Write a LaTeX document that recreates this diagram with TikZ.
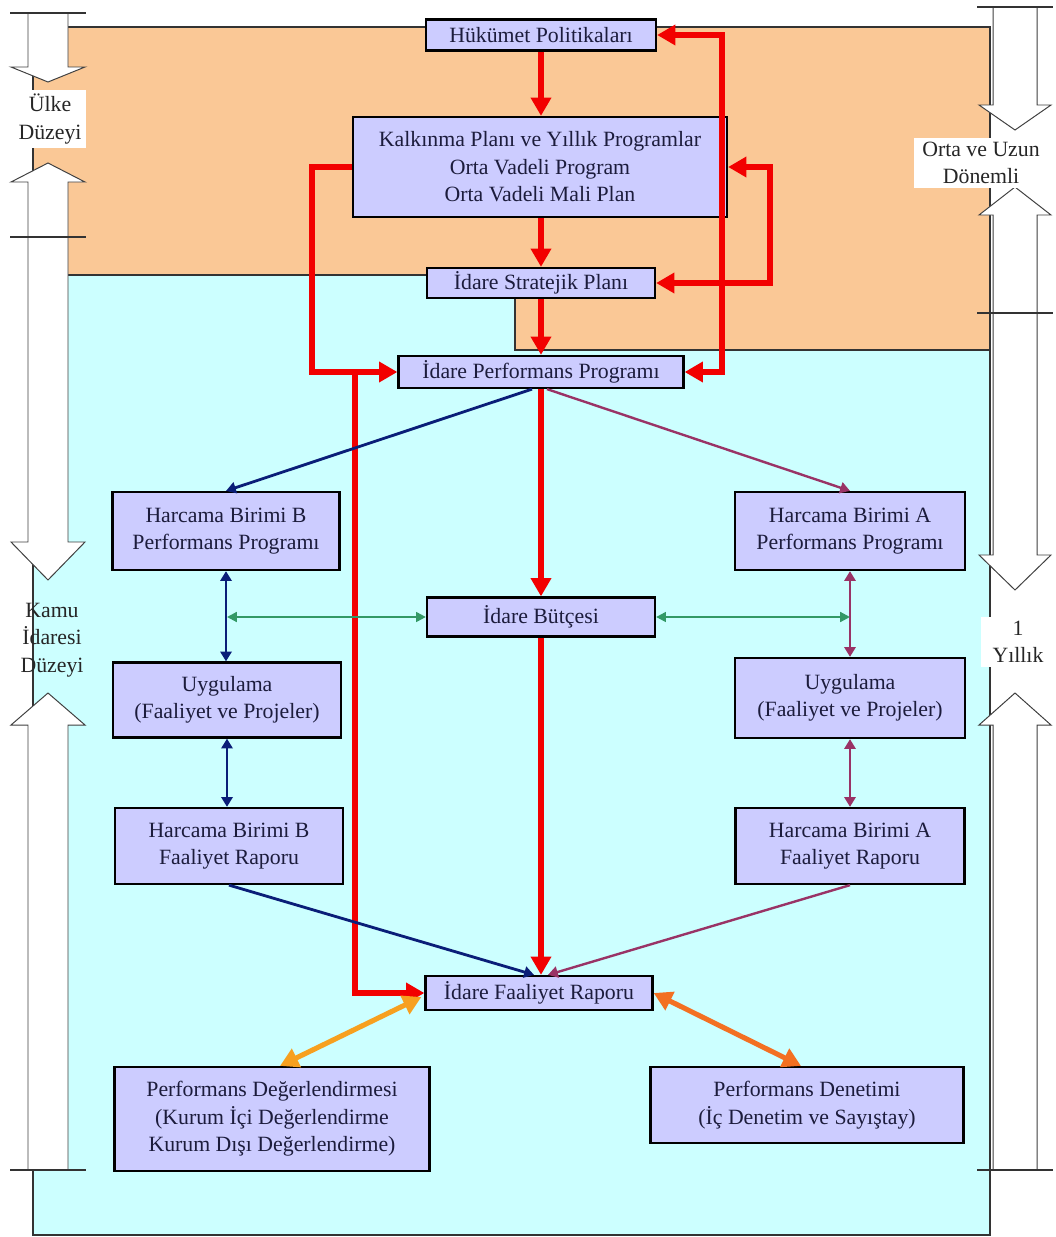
\documentclass[tikz,border=0pt]{standalone}
\usepackage{fontspec}
\setmainfont{Liberation Serif}
\usepackage{xcolor}
\usepackage{tikz}
\usetikzlibrary{arrows.meta,positioning,calc,backgrounds}

\definecolor{peach}{HTML}{FAC896}
\definecolor{lightcyan}{HTML}{CCFFFF}
\definecolor{lavender}{HTML}{CCCCFF}
\definecolor{boxtext}{HTML}{1C1C3C}
\definecolor{redline}{HTML}{F20000}
\definecolor{navyline}{HTML}{0A1E78}
\definecolor{plumline}{HTML}{993366}
\definecolor{greenline}{HTML}{339966}
\definecolor{orangeA}{HTML}{F7A01F}
\definecolor{orangeB}{HTML}{F37022}

\begin{document}
\begin{tikzpicture}[
    x=0.025cm, y=-0.025cm,
    font=\fontsize{15.5}{19.5}\selectfont,
    box/.style={rectangle, draw=black, line width=1.6pt, fill=lavender, text=boxtext, align=center, inner sep=2pt},
    wh/.style 2 args={minimum width=#1*0.025cm, minimum height=#2*0.025cm},
    redarrow/.style={draw=redline, line width=3.6pt, -{Triangle[length=13pt,width=14pt]}},
    redboth/.style={redarrow, {Triangle[length=13pt,width=14pt]}-{Triangle[length=13pt,width=14pt]}},
    navyarrow/.style={draw=navyline, line width=2pt, -{Triangle[length=7pt,width=8pt]}},
    navyboth/.style={navyarrow, {Triangle[length=7pt,width=8pt]}-{Triangle[length=7pt,width=8pt]}},
    plumarrow/.style={draw=plumline, line width=1.7pt, -{Triangle[length=7pt,width=8pt]}},
    plumboth/.style={plumarrow, {Triangle[length=7pt,width=8pt]}-{Triangle[length=7pt,width=8pt]}},
    greenboth/.style={draw=greenline, line width=1.5pt, {Triangle[length=7pt,width=7pt]}-{Triangle[length=7pt,width=7pt]}},
    orangeboth/.style={line width=3.6pt, {Triangle[length=13pt,width=14pt]}-{Triangle[length=13pt,width=14pt]}},
    region/.style={draw=black!80, line width=0.8pt},
    sidearrow/.style={draw=black!75, fill=white, line width=0.7pt},
    sidebar/.style={draw=black!80, line width=1.4pt},
    sidelabel/.style={fill=white, align=center, text=black!85, inner sep=3pt}
]
    \useasboundingbox (0,0) rectangle (1056,1237);

    % --- Boxes, central column ---
    \node[box, wh={230}{31}] (hp) at (541,35) {Hükümet Politikaları};
    \node[box, wh={374}{100}] (kp) at (540,167) {Kalkınma Planı ve Yıllık Programlar\\Orta Vadeli Program\\Orta Vadeli Mali Plan};
    \node[box, wh={228}{30}] (sp) at (541,283) {İdare Stratejik Planı};
    \node[box, wh={285}{32}] (pp) at (541,372) {İdare Performans Programı};
    \node[box, wh={228}{39}] (bud) at (541,617) {İdare Bütçesi};
    \node[box, wh={227}{34}] (ifr) at (539,993) {İdare Faaliyet Raporu};

    % --- Boxes, unit B (left) ---
    \node[box, wh={227}{78}] (bpp) at (226,531) {Harcama Birimi B\\Performans Programı};
    \node[box, wh={228}{75}] (bug) at (227,700) {Uygulama\\(Faaliyet ve Projeler)};
    \node[box, wh={228}{76}] (bfr) at (229,846) {Harcama Birimi B\\Faaliyet Raporu};

    % --- Boxes, unit A (right) ---
    \node[box, wh={230}{78}] (app) at (850,531) {Harcama Birimi A\\Performans Programı};
    \node[box, wh={230}{80}] (aug) at (850,698) {Uygulama\\(Faaliyet ve Projeler)};
    \node[box, wh={229}{76}] (afr) at (850,846) {Harcama Birimi A\\Faaliyet Raporu};

    % --- Boxes, evaluation ---
    \node[box, wh={315}{104}] (pd) at (272,1119) {Performans Değerlendirmesi\\(Kurum İçi Değerlendirme\\Kurum Dışı Değerlendirme)};
    \node[box, wh={313}{76}] (pdn) at (807,1105) {Performans Denetimi\\(İç Denetim ve Sayıştay)};

    % --- Side labels ---
    \node[sidelabel] (ulke) at (50,119) {Ülke\\Düzeyi};
    \node[align=center, text=black!85] (kamu) at (52,640) {Kamu\\İdaresi\\Düzeyi};
    \node[sidelabel, inner xsep=6pt] (orta) at (981,163) {Orta ve Uzun\\Dönemli};
    \node[sidelabel, inner xsep=8pt] (yillik) at (1018,642) {1\\Yıllık};

    % --- Routing points ---
    \coordinate (rl) at (722,0);
    \coordinate (rs) at (770,0);
    \coordinate (ll) at (312,0);
    \coordinate (lb) at (355,0);

    % --- Background regions and period arrows ---
    \begin{scope}[on background layer]
        \fill[lightcyan, region] (33,275) rectangle (990,1235);
        \fill[peach, region] (33,27) -- (990,27) -- (990,350) -- (515,350) -- (515,275) -- (33,275) -- cycle;

        \foreach \cx/\sh/\hh/\ya/\yb/\yc in {48/20/37/13/67/82, 48/20/37/237/542/580, 1015/22/36/7/105/130, 1015/22/36/313/555/590}
            \draw[sidearrow] (\cx-\sh,\ya) -- (\cx-\sh,\yb) -- (\cx-\hh,\yb) -- (\cx,\yc) -- (\cx+\hh,\yb) -- (\cx+\sh,\yb) -- (\cx+\sh,\ya);
        \foreach \cx/\sh/\hh/\ya/\yb/\yc in {48/20/37/163/182/237, 48/20/37/693/725/1170, 1015/22/36/187/215/313, 1015/22/36/693/725/1170}
            \draw[sidearrow] (\cx-\sh,\yc) -- (\cx-\sh,\yb) -- (\cx-\hh,\yb) -- (\cx,\ya) -- (\cx+\hh,\yb) -- (\cx+\sh,\yb) -- (\cx+\sh,\yc);
        \foreach \cx/\yy in {48/13, 48/237, 48/1170, 1015/7, 1015/313, 1015/1170}
            \draw[sidebar] (\cx-38,\yy) -- (\cx+38,\yy);
    \end{scope}

    % --- Red main flow ---
    \draw[redarrow] (hp.south) -- (hp.south |- kp.north);
    \draw[redarrow] (kp.south -| sp.north) -- (sp.north);
    \draw[redarrow] (sp.south) -- (pp.north);
    \draw[redarrow] (pp.south) -- (bud.north);
    \draw[redarrow] (bud.south) -- (bud.south |- ifr.north);

    % feedback loops
    \draw[redboth] (hp.east) -- (hp.east -| rl) -- (pp.east -| rl) -- (pp.east);
    \draw[redboth] (kp.east) -- (kp.east -| rs) -- (sp.east -| rs) -- (sp.east);
    \draw[redarrow] (kp.west) -- (kp.west -| ll) -- (pp.west -| ll) -- (pp.west);
    \draw[redarrow] (pp.west -| lb) -- (ifr.west -| lb) -- (ifr.west);

    % --- Unit B ---
    \draw[navyarrow] ($(pp.south)+(-9,0)$) -- (bpp.north);
    \draw[navyboth] (bpp.south) -- (bpp.south |- bug.north);
    \draw[navyboth] (bug.south) -- (bug.south |- bfr.north);
    \draw[navyarrow] (bfr.south) -- ($(ifr.north)+(-5,0)$);

    % --- Unit A ---
    \draw[plumarrow] ($(pp.south)+(6,0)$) -- (app.north);
    \draw[plumboth] (app.south) -- (aug.north);
    \draw[plumboth] (aug.south) -- (afr.north);
    \draw[plumarrow] (afr.south) -- ($(ifr.north)+(9,0)$);

    % --- Budget links ---
    \draw[greenboth] (bud.west) -- (bud.west -| bug.north);
    \draw[greenboth] (bud.east) -- (bud.east -| aug.north);

    % --- Evaluation ---
    \draw[orangeboth, draw=orangeA] ($(ifr.west)+(-3,4)$) -- ($(pd.north)+(8,0)$);
    \draw[orangeboth, draw=orangeB] (ifr.east) -- ($(pdn.north)+(-6,0)$);

\end{tikzpicture}
\end{document}
